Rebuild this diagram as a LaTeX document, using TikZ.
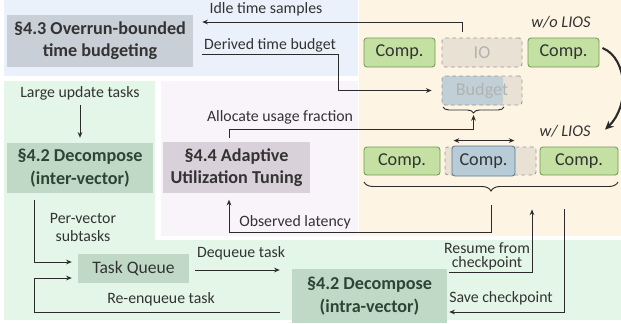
\documentclass[tikz,border=0pt]{standalone}
\usepackage{fontspec}
\setmainfont{Carlito}
\usetikzlibrary{calc,arrows.meta,positioning,decorations.pathreplacing}
\definecolor{bluebg}{HTML}{EAF1FA}
\definecolor{creambg}{HTML}{FDF4E3}
\definecolor{lavbg}{HTML}{F9F3FA}
\definecolor{greenbg}{HTML}{E3F6E7}
\definecolor{grayc}{HTML}{C9CFD6}
\definecolor{decc}{HTML}{C0D9C7}
\definecolor{adc}{HTML}{D9D1D9}
\definecolor{compc}{HTML}{C5E0A3}
\definecolor{compd}{HTML}{6F9A52}
\definecolor{bluec}{HTML}{B7CCD7}
\definecolor{blued}{HTML}{5C7B8B}
\definecolor{slotc}{HTML}{E9E2D4}
\definecolor{linec}{HTML}{2B2B2B}
\definecolor{txtc}{HTML}{333333}
\definecolor{dtxt}{HTML}{2C4636}
\tikzset{
  ar/.style={-{Stealth[length=1.7mm,width=1.4mm]},line width=0.8pt,linec},
  dar/.style={{Stealth[length=1.7mm,width=1.4mm]}-{Stealth[length=1.7mm,width=1.4mm]},line width=0.8pt,linec},
  ttl/.style={align=center,inner sep=0pt,font=\fontsize{15.5}{19}\selectfont\bfseries,text=txtc},
  lbl/.style={align=center,inner sep=0pt,font=\fontsize{13.5}{16}\selectfont,text=txtc},
  comp/.style={draw=compd,fill=compc,rounded corners=2.5pt,line width=0.7pt,inner sep=0pt,minimum width=2.13cm,minimum height=0.87cm,font=\fontsize{15.5}{18}\selectfont,text=txtc},
  slot/.style={draw=gray!80,dashed,fill=slotc,rounded corners=2.5pt,line width=0.7pt,inner sep=0pt,minimum width=2.4cm,minimum height=0.87cm,font=\fontsize{15.5}{18}\selectfont,text=gray!60},
  brc/.style={decorate,line width=0.8pt,linec}
}

\begin{document}
\begin{tikzpicture}[x=0.03cm,y=-0.03cm]
\useasboundingbox (0,0) rectangle (621,323);
% background areas
\fill[bluebg] (4,0) rectangle (358,76);
\fill[creambg] (359,0) rectangle (621,236);
\fill[lavbg] (161,81) rectangle (358,236);
\fill[greenbg] (4,81) rectangle (155,320);
\fill[greenbg] (4,240) rectangle (621,320);
% main blocks
\node[ttl,fill=grayc,minimum width=5.58cm,minimum height=1.56cm] (ovr) at (100,41) {§4.3 Overrun-bounded\\time budgeting};
\node[ttl,fill=decc,text=dtxt,minimum width=4.38cm,minimum height=1.5cm] (deca) at (80,168) {§4.2 Decompose\\(inter-vector)};
\node[ttl,fill=adc,minimum width=4.41cm,minimum height=1.53cm] (adapt) at (236.5,167.5) {§4.4 Adaptive\\Utilization Tuning};
\node[lbl,fill=decc,minimum width=3.33cm,minimum height=0.87cm,font=\fontsize{15}{18}\selectfont] (queue) at (133.5,268.5) {Task Queue};
\node[ttl,fill=decc,text=dtxt,minimum width=4.65cm,minimum height=1.62cm] (decb) at (369.5,296) {§4.2 Decompose\\(intra-vector)};
% timeline w/o LIOS
\node[comp] (ca) at (399.5,52.5) {Comp.};
\node[slot] (io) at (482,52.5) {IO};
\node[comp] (cb) at (563.5,52.5) {Comp.};
\node[slot,path picture={\fill[bluec,opacity=0.8] (path picture bounding box.north west) rectangle ([xshift=1.83cm]path picture bounding box.south west);}] (bud) at (482,90.5) {Budget};
\node[font=\fontsize{14}{16}\selectfont\itshape,text=txtc] (wo) at (561,22) {w/o LIOS};
% timeline w/ LIOS
\node[comp,minimum width=2.28cm,minimum height=0.84cm] (cc) at (402,161) {Comp.};
\node[slot,minimum width=2.73cm,minimum height=0.84cm] (sl) at (490.5,161) {};
\node[comp,draw=blued,fill=bluec,minimum width=1.89cm,minimum height=0.9cm] (cm) at (483.5,161) {Comp.};
\node[comp,minimum width=2.34cm,minimum height=0.84cm] (cd) at (579,161) {Comp.};
\node[font=\fontsize{14}{16}\selectfont\itshape,text=txtc] (wl) at (565,131) {w/ LIOS};
\draw[dar] ($(cm.north west)+(2,-5)$) -- ($(cm.north east)+(-1,-5)$);
\draw[line width=1.8pt,linec,-{Stealth[length=2.6mm,width=2.4mm]}] ($(cb.east)+(3,-4.5)$) .. controls (628,58) and (630,106) .. ($(cd.north)+(26,-17)$);
% braces
\draw[brc,decoration={brace,mirror,amplitude=0.18cm}] (443,107) -- (504,107);
\coordinate (bt) at (473.5,113);
\draw[brc,decoration={brace,mirror,amplitude=0.27cm}] (364,182) -- (618,182);
\coordinate (lt) at (491,192);
% labels
\node[lbl] (idl) at (266,9) {Idle time samples};
\node[lbl] (der) at (270,45) {Derived time budget};
\node[lbl] (alo) at (280,117) {Allocate usage fraction};
\node[lbl] (obs) at (295,222) {Observed latency};
\node[lbl] (lut) at (80,93) {Large update tasks};
\node[lbl] (pvs) at (83,227.5) {Per-vector\\subtasks};
\node[lbl] (deq) at (241,253) {Dequeue task};
\node[lbl] (req) at (161,299) {Re-enqueue task};
\node[lbl,font=\fontsize{13.5}{12}\selectfont] (res) at (487,256) {Resume from\\checkpoint};
\node[lbl] (sav) at (501,298) {Save checkpoint};
% connectors
\draw[ar] ($(io.north west)+(21,-6)$) |- ($(ovr.east)+(9,-19)$);
\draw[ar] ($(ovr.east)+(9,13)$) -- ++(136,0) |- ($(bud.west)+(-10,0)$);
\draw[ar] ($(adapt.north)+(-7.5,-4)$) -- ++(0,-8) -| ($(bt)+(0,2)$);
\draw[ar] ($(lt)+(0,13)$) -- ++(0,27) -| ($(adapt.south)+(-7.5,6.5)$);
\draw[ar] ($(lut.south)+(0,5)$) -- ($(deca.north)+(0,-5)$);
\draw[ar] ($(deca.south west)+(28,7)$) |- ($(queue.west)+(-6,-6.5)$);
\draw[ar] ($(queue.east)+(6,1.5)$) -- ($(decb.west)+(-12,-26)$);
\draw[ar] ($(decb.west)+(-12,16)$) -| ($(queue.west)+(-43,9.5)$) -- ($(queue.west)+(-6,9.5)$);
\draw[ar] ($(decb.north east)+(2,4)$) -| ($(sl.south)+(41.5,34)$);
\draw[ar] ($(cd.south)+(-15,34)$) |- ($(decb.east)+(2,16)$);
\end{tikzpicture}
\end{document}
